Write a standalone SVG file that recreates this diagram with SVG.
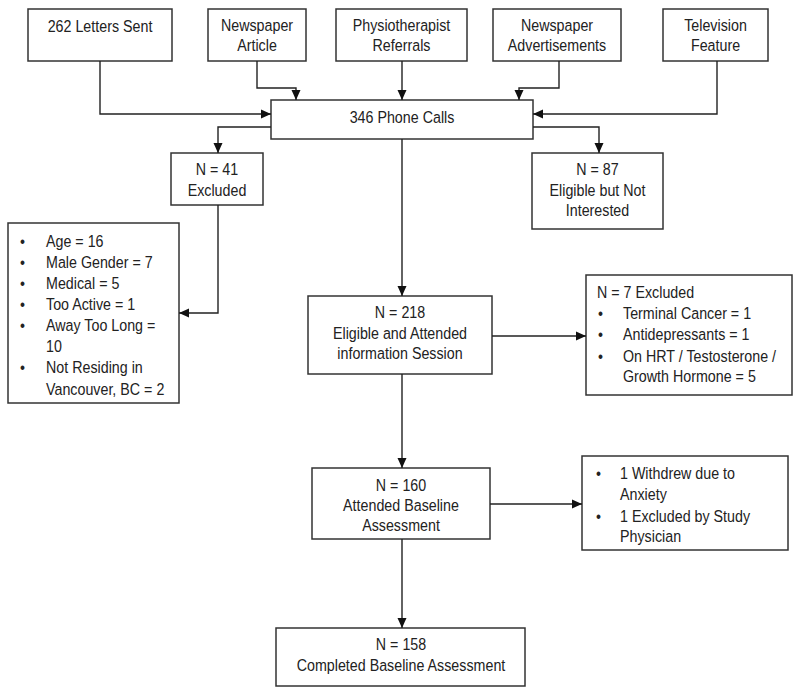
<svg xmlns="http://www.w3.org/2000/svg" width="800" height="695" viewBox="0 0 800 695">
<style>
.b{fill:#fff;stroke:#333;stroke-width:1.5}
.t text{font-family:"Liberation Sans",Arial,sans-serif;font-size:17px;fill:#222}
.c text{text-anchor:middle}
.l{fill:none;stroke:#222;stroke-width:1.4}
</style>
<defs>
<marker id="a" viewBox="0 0 10 10" refX="10" refY="5" markerWidth="10" markerHeight="10" markerUnits="userSpaceOnUse" orient="auto">
<path d="M0,0.5 L10,5 L0,9.5 z" fill="#111"/>
</marker>
</defs>
<rect width="800" height="695" fill="#fff"/>
<g id="letters"><rect class="b" x="28" y="9" width="144" height="52"/><g class="t c"><text transform="translate(100,32) scale(0.84,1)">262 Letters Sent</text></g></g>
<g id="article"><rect class="b" x="208" y="9" width="98" height="52"/><g class="t c"><text transform="translate(257,31) scale(0.84,1)">Newspaper</text><text transform="translate(257,51) scale(0.84,1)">Article</text></g></g>
<g id="physio"><rect class="b" x="336" y="9" width="131" height="52"/><g class="t c"><text transform="translate(401.5,31) scale(0.84,1)">Physiotherapist</text><text transform="translate(401.5,51) scale(0.84,1)">Referrals</text></g></g>
<g id="ads"><rect class="b" x="493" y="9" width="128" height="52"/><g class="t c"><text transform="translate(557,31) scale(0.84,1)">Newspaper</text><text transform="translate(557,51) scale(0.84,1)">Advertisements</text></g></g>
<g id="tv"><rect class="b" x="663" y="9" width="105" height="52"/><g class="t c"><text transform="translate(715.5,31) scale(0.84,1)">Television</text><text transform="translate(715.5,51) scale(0.84,1)">Feature</text></g></g>
<g id="phone"><rect class="b" x="271" y="100" width="262" height="39"/><g class="t c"><text transform="translate(402,123) scale(0.84,1)">346 Phone Calls</text></g></g>
<g id="excl41"><rect class="b" x="171" y="153" width="92" height="52"/><g class="t c"><text transform="translate(217,175) scale(0.84,1)">N = 41</text><text transform="translate(217,196) scale(0.84,1)">Excluded</text></g></g>
<g id="n87"><rect class="b" x="532" y="153" width="131" height="76"/><g class="t c"><text transform="translate(597.5,175) scale(0.84,1)">N = 87</text><text transform="translate(597.5,196) scale(0.84,1)">Eligible but Not</text><text transform="translate(597.5,216) scale(0.84,1)">Interested</text></g></g>
<g id="reasons41"><rect class="b" x="8" y="223" width="171" height="180"/>
<g class="t"><text transform="translate(20,247) scale(0.84,1)">•</text><text transform="translate(46,247) scale(0.84,1)">Age = 16</text>
<text transform="translate(20,268) scale(0.84,1)">•</text><text transform="translate(46,268) scale(0.84,1)">Male Gender = 7</text>
<text transform="translate(20,289) scale(0.84,1)">•</text><text transform="translate(46,289) scale(0.84,1)">Medical = 5</text>
<text transform="translate(20,310) scale(0.84,1)">•</text><text transform="translate(46,310) scale(0.84,1)">Too Active = 1</text>
<text transform="translate(20,331) scale(0.84,1)">•</text><text transform="translate(46,331) scale(0.84,1)">Away Too Long =</text>
<text transform="translate(46,352) scale(0.84,1)">10</text>
<text transform="translate(20,373) scale(0.84,1)">•</text><text transform="translate(46,373) scale(0.84,1)">Not Residing in</text>
<text transform="translate(46,395) scale(0.84,1)">Vancouver, BC = 2</text></g></g>
<g id="n218"><rect class="b" x="308" y="296" width="184" height="78"/><g class="t c"><text transform="translate(400,318) scale(0.84,1)">N = 218</text><text transform="translate(400,339) scale(0.84,1)">Eligible and Attended</text><text transform="translate(400,359) scale(0.84,1)">information Session</text></g></g>
<g id="excl7"><rect class="b" x="586" y="275" width="206" height="120"/>
<g class="t"><text transform="translate(597,298) scale(0.84,1)">N = 7 Excluded</text>
<text transform="translate(598,319) scale(0.84,1)">•</text><text transform="translate(623,319) scale(0.84,1)">Terminal Cancer = 1</text>
<text transform="translate(598,340) scale(0.84,1)">•</text><text transform="translate(623,340) scale(0.84,1)">Antidepressants = 1</text>
<text transform="translate(598,362) scale(0.84,1)">•</text><text transform="translate(623,362) scale(0.84,1)">On HRT / Testosterone /</text>
<text transform="translate(623,382) scale(0.84,1)">Growth Hormone = 5</text></g></g>
<g id="n160"><rect class="b" x="312" y="468" width="178" height="71"/><g class="t c"><text transform="translate(401,491) scale(0.84,1)">N = 160</text><text transform="translate(401,511) scale(0.84,1)">Attended Baseline</text><text transform="translate(401,531) scale(0.84,1)">Assessment</text></g></g>
<g id="withdrew"><rect class="b" x="582" y="456" width="206" height="94"/>
<g class="t"><text transform="translate(596,479) scale(0.84,1)">•</text><text transform="translate(620,479) scale(0.84,1)">1 Withdrew due to</text>
<text transform="translate(620,500) scale(0.84,1)">Anxiety</text>
<text transform="translate(596,522) scale(0.84,1)">•</text><text transform="translate(620,522) scale(0.84,1)">1 Excluded by Study</text>
<text transform="translate(620,542) scale(0.84,1)">Physician</text></g></g>
<g id="n158"><rect class="b" x="276" y="628" width="249" height="58"/><g class="t c"><text transform="translate(401,650) scale(0.84,1)">N = 158</text><text transform="translate(401,671) scale(0.84,1)">Completed Baseline Assessment</text></g></g>
<g id="connectors">
<path class="l" marker-end="url(#a)" d="M100,61 V114 H271"/>
<path class="l" marker-end="url(#a)" d="M257,61 V88 H296 V100"/>
<path class="l" marker-end="url(#a)" d="M402,61 V100"/>
<path class="l" marker-end="url(#a)" d="M559,61 V88 H519 V100"/>
<path class="l" marker-end="url(#a)" d="M717,61 V114 H533"/>
<path class="l" marker-end="url(#a)" d="M271,127 H218 V153"/>
<path class="l" marker-end="url(#a)" d="M533,127 H599 V153"/>
<path class="l" marker-end="url(#a)" d="M218,205 V313 H179"/>
<path class="l" marker-end="url(#a)" d="M402,139 V296"/>
<path class="l" marker-end="url(#a)" d="M492,336 H586"/>
<path class="l" marker-end="url(#a)" d="M402,374 V468"/>
<path class="l" marker-end="url(#a)" d="M490,504 H582"/>
<path class="l" marker-end="url(#a)" d="M402,539 V628"/>
</g>
</svg>
